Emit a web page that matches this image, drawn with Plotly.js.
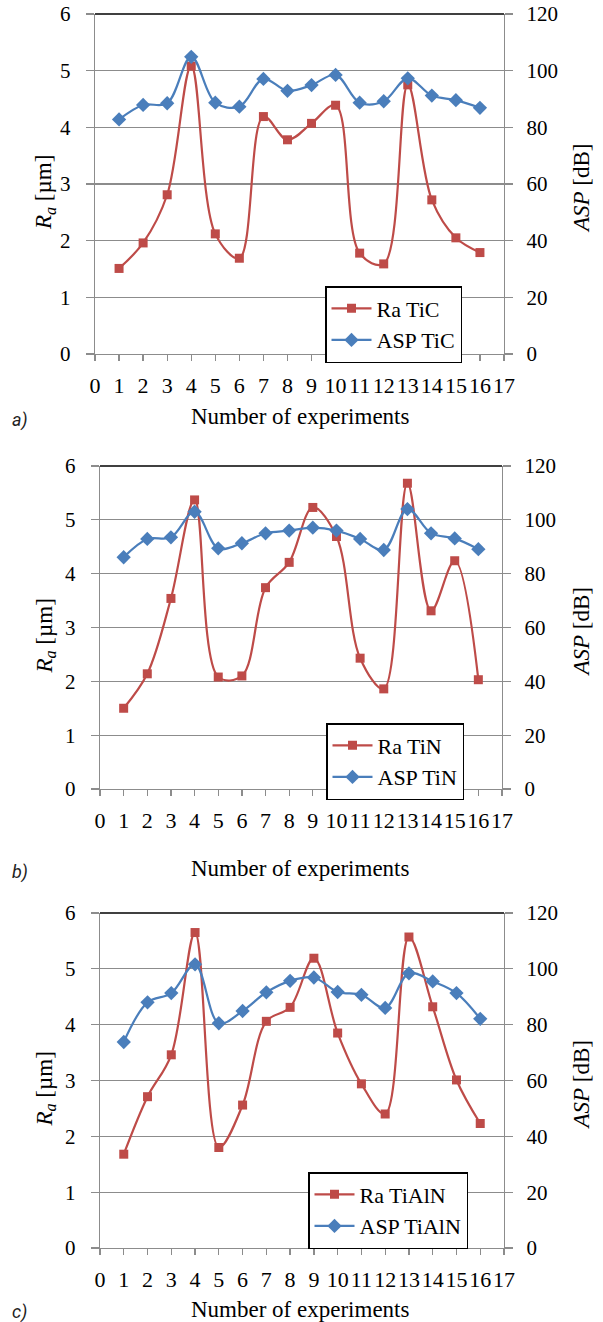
<!DOCTYPE html>
<html>
<head>
<meta charset="utf-8">
<script src="https://cdn.plot.ly/plotly-3.0.1.min.js"></script>
<style>html,body{margin:0;padding:0;background:#fff}</style>
</head>
<body>
<div id="chart" style="width:603px;height:1322px"></div>
<script>
// ---- data ----
const experiments = [1,2,3,4,5,6,7,8,9,10,11,12,13,14,15,16];
const xTicks = [0,1,2,3,4,5,6,7,8,9,10,11,12,13,14,15,16,17];
const raTicks = [0,1,2,3,4,5,6];
const aspTicks = [0,20,40,60,80,100,120];

const raTiC   = [1.51,1.96,2.81,5.08,2.12,1.69,4.19,3.78,4.07,4.39,1.78,1.59,4.75,2.72,2.05,1.79];
const aspTiC  = [82.8,87.9,88.5,104.9,88.7,87.3,97.1,92.9,94.9,98.5,88.7,89.2,97.3,91.2,89.6,86.9];

const raTiN   = [1.50,2.14,3.54,5.37,2.08,2.10,3.74,4.21,5.23,4.69,2.43,1.86,5.68,3.31,4.24,2.03];
const aspTiN  = [86.1,92.9,93.5,103.0,89.4,91.3,95.0,96.0,97.1,96.0,92.9,88.8,104.0,95.0,93.1,89.1];

const raTiAlN  = [1.68,2.71,3.46,5.65,1.80,2.56,4.06,4.31,5.19,3.85,2.94,2.40,5.57,4.32,3.01,2.23];
const aspTiAlN = [73.8,88.0,91.3,101.6,80.5,84.9,91.6,95.7,96.9,91.7,90.7,86.0,98.4,95.5,91.3,82.1];

const panels = [
  {ra: raTiC,   asp: aspTiC,   raName: 'Ra TiC',   aspName: 'ASP TiC',   tag: 'a)'},
  {ra: raTiN,   asp: aspTiN,   raName: 'Ra TiN',   aspName: 'ASP TiN',   tag: 'b)'},
  {ra: raTiAlN, asp: aspTiAlN, raName: 'Ra TiAlN', aspName: 'ASP TiAlN', tag: 'c)'}
];

// ---- layout geometry (pixels) ----
const W = 603, H = 1322;
const boxes = [
  {l: 95,  r: 504, t: 14,  b: 354, title: 417, tagY: 420, leg: {x: 325, y: 286}},
  {l: 100, r: 502, t: 466, b: 789, title: 868, tagY: 872, leg: {x: 326, y: 723}},
  {l: 100, r: 504, t: 913, b: 1248, title: 1309, tagY: 1312, leg: {x: 308, y: 1172}}
];

const RED = '#BE4B48', BLUE = '#4A7EBB', GRID = '#8C8C8C';
const SERIF = 'Liberation Serif';

const traces = [];
const layout = {
  width: W, height: H,
  margin: {l: 0, r: 0, t: 0, b: 0},
  paper_bgcolor: '#ffffff', plot_bgcolor: '#ffffff',
  showlegend: true,
  font: {family: SERIF, color: '#000', size: 20},
  annotations: [], shapes: []
};

panels.forEach((p, i) => {
  const bx = boxes[i];
  const xa = i === 0 ? 'x' : 'x' + (i + 1);
  const yl = i === 0 ? 'y' : 'y' + (2 * i + 1);
  const yr = 'y' + (2 * i + 2);
  const legName = i === 0 ? 'legend' : 'legend' + (i + 1);
  traces.push({
    x: experiments, y: p.ra, name: p.raName, type: 'scatter', mode: 'lines+markers',
    xaxis: xa, yaxis: yl, legend: legName,
    line: {color: RED, width: 2.2, shape: 'spline', smoothing: 1},
    marker: {symbol: 'square', size: 9, color: RED}
  });
  traces.push({
    x: experiments, y: p.asp, name: p.aspName, type: 'scatter', mode: 'lines+markers',
    xaxis: xa, yaxis: yr, legend: legName,
    line: {color: BLUE, width: 2.2, shape: 'spline', smoothing: 1},
    marker: {symbol: 'diamond', size: 11, color: BLUE}
  });
  const xd = [bx.l / W, bx.r / W];
  const yd = [1 - bx.b / H, 1 - bx.t / H];
  const xKey = i === 0 ? 'xaxis' : 'xaxis' + (i + 1);
  const ylKey = i === 0 ? 'yaxis' : 'yaxis' + (2 * i + 1);
  const yrKey = 'yaxis' + (2 * i + 2);
  layout[xKey] = {
    domain: xd, anchor: yl, range: [0, 17], tickmode: 'array', tickvals: xTicks,
    ticktext: xTicks.map(String), showgrid: false, zeroline: false,
    showline: true, linecolor: GRID, linewidth: 1.3,
    ticks: 'outside', ticklen: 6, tickcolor: GRID, tickwidth: 1.3, tickangle: 0,
    tickfont: {family: SERIF, size: 22, color: '#000'}, ticklabelstandoff: 5,
    fixedrange: true
  };
  layout[ylKey] = {
    domain: yd, anchor: xa, range: [0, 6], tickmode: 'array', tickvals: raTicks,
    showgrid: true, gridcolor: GRID, gridwidth: 1.3, zeroline: false,
    showline: true, linecolor: GRID, linewidth: 1.3,
    ticks: 'outside', ticklen: 8, tickcolor: GRID, tickwidth: 1.3,
    tickfont: {family: SERIF, size: 21, color: '#000'}, ticklabelstandoff: 11,
    fixedrange: true
  };
  layout[yrKey] = {
    domain: yd, anchor: xa, overlaying: yl, side: 'right', range: [0, 120],
    tickmode: 'array', tickvals: aspTicks, showgrid: false, zeroline: false,
    showline: true, linecolor: GRID, linewidth: 1.3,
    ticks: 'outside', ticklen: 8, tickcolor: GRID, tickwidth: 1.3,
    tickfont: {family: SERIF, size: 21, color: '#000'}, ticklabelstandoff: 9,
    fixedrange: true
  };
  layout[legName] = {
    x: bx.leg.x / W, y: 1 - bx.leg.y / H, xanchor: 'left', yanchor: 'top',
    bgcolor: '#ffffff', bordercolor: '#000', borderwidth: 1.5,
    font: {family: SERIF, size: 22, color: '#000'}, itemwidth: 40,
    tracegroupgap: 0
  };
  layout.shapes.push({type: 'line', xref: xa + ' domain', yref: yl + ' domain',
    x0: 0, x1: 1, y0: 1, y1: 1, line: {color: '#000', width: 1.3}});
  layout.annotations.push({text: 'Number of experiments', xref: 'paper', yref: 'paper',
    x: 300 / W, y: 1 - bx.title / H, xanchor: 'center', yanchor: 'middle', showarrow: false,
    font: {family: SERIF, size: 23, color: '#000'}});
  layout.annotations.push({text: '<i>R</i><sub><i>a</i></sub> [µm]', xref: 'paper', yref: 'paper',
    x: 45 / W, y: 1 - ((bx.t + bx.b) / 2 + 8) / H, xanchor: 'center', yanchor: 'middle',
    textangle: -90, showarrow: false, font: {family: SERIF, size: 23, color: '#000'}});
  layout.annotations.push({text: '<i>ASP</i> [dB]', xref: 'paper', yref: 'paper',
    x: 581 / W, y: 1 - ((bx.t + bx.b) / 2 + 4) / H, xanchor: 'center', yanchor: 'middle',
    textangle: -90, showarrow: false, font: {family: SERIF, size: 23, color: '#000'}});
  layout.annotations.push({text: '<i>' + p.tag + '</i>', xref: 'paper', yref: 'paper',
    x: 10 / W, y: 1 - bx.tagY / H, xanchor: 'left', yanchor: 'middle', showarrow: false,
    font: {family: 'Roboto', size: 18, color: '#222'}});
});

Plotly.newPlot('chart', traces, layout, {displayModeBar: false, staticPlot: true});
</script>
</body>
</html>
